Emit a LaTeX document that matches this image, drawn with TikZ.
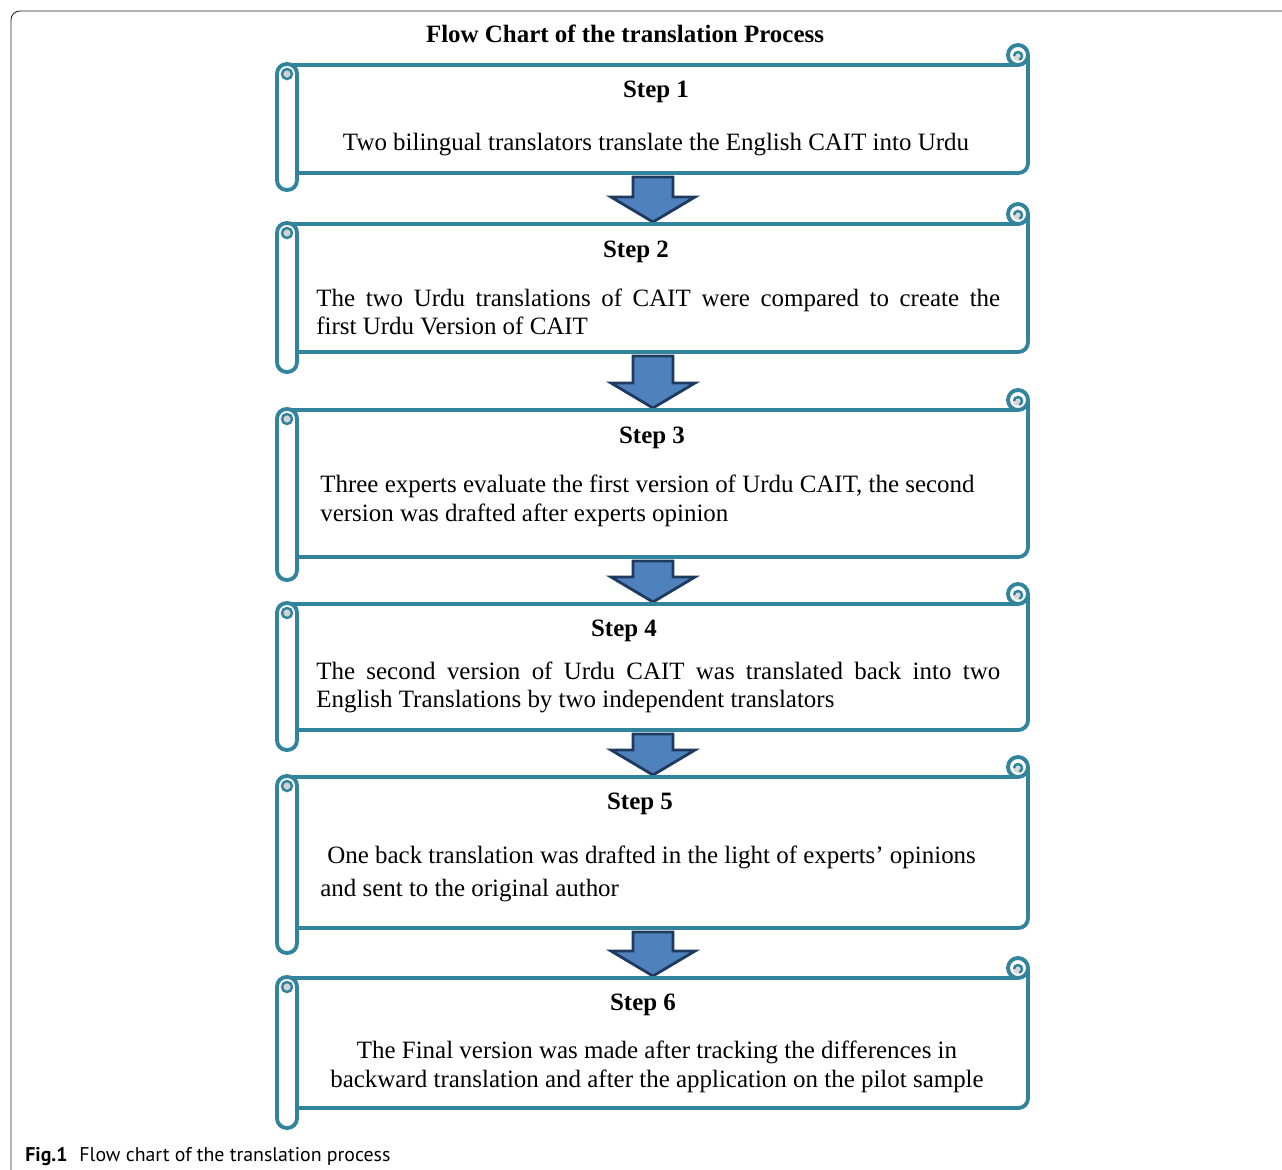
\documentclass[tikz,border=0pt]{standalone}
\usepackage{fontspec}
\setmainfont{Liberation Serif}
\newfontfamily\capfont{PT Sans}
\usetikzlibrary{math,calc}

\definecolor{scrollteal}{HTML}{31849B}
\definecolor{arrowblue}{HTML}{4F81BD}
\definecolor{arrowedge}{HTML}{1F3A5F}

\tikzset{
  scrollline/.style={draw=scrollteal, line width=2.2pt},
  steptitle/.style={font=\fontsize{14.2}{16.4}\selectfont\bfseries, inner sep=0pt, anchor=base},
  steptext/.style={font=\fontsize{14.2}{16.4}\selectfont, inner sep=0pt},
  blockarrow/.style={fill=arrowblue, draw=arrowedge, line width=1.6pt, line join=miter},
}

\begin{document}
\begin{tikzpicture}[x=0.02cm, y=-0.02cm]
            \tikzmath{\rollL = 277; \rollR = 297; \boxR = 1028; \curlr = 10; \ax = 653;}
            \useasboundingbox (0,0) rectangle (1282,1170);
            \draw[black!85, line width=0.5pt, rounded corners=5pt] (11,1175) -- (11,11) -- (1290,11);

            % named points where the arrows start and end
            \foreach \n/\T/\B in {1/65/173, 2/224/352, 3/410/557, 4/604/730, 5/777/928, 6/978/1108}{
                \coordinate (t\n) at (\ax,\T-2);
                \coordinate (b\n) at (\ax,\B);
            }

            % block arrows between the steps
            \foreach \n/\m in {1/2, 2/3, 3/4, 4/5, 5/6}{
                \draw[blockarrow] (b\n) ++(-20,4) -- ++(40,0) |- ($(t\m)+(42,-25)$) -- (t\m) -- ++(-42,-25) -- ++(22,0) -- cycle;
            }

            % the scrolls
            \foreach \T/\B/\R in {65/173/190, 224/352/372, 410/557/580, 604/730/750, 777/928/953, 978/1108/1128}{
                \draw[scrollline, rounded corners=5.5pt] (\boxR,\T-\curlr) -- (\boxR,\B) -- (\rollR,\B);
                \draw[scrollline] (\rollL+10,\T) -- (\boxR-\curlr,\T);
                \filldraw[scrollline, fill=white] (\boxR-\curlr,\T-\curlr) circle (\curlr);
                \fill[gray!30] (\boxR-\curlr,\T-\curlr+1) circle (5);
                \draw[scrollline, line width=1.4pt] (\boxR-\curlr-4,\T-\curlr+1) arc[start angle=180, end angle=430, radius=4];
                \filldraw[scrollline, fill=white, rounded corners=5.5pt] (\rollL,\T-1) rectangle (\rollR,\R);
                \fill[gray!35] (\rollL+10,\T+9) circle (4);
                \draw[scrollline, line width=1.4pt] (\rollL+10,\T+9) circle (5);
            }

            \node[steptitle] (head) at (625,42) {Flow Chart of the translation Process};

            \node[steptitle] (s1) at (656,97) {Step 1};
            \node[steptext, anchor=base] (x1) at (656,150) {Two bilingual translators translate the English CAIT into Urdu};

            \node[steptitle] (s2) at (636,257) {Step 2};
            \node[steptext, anchor=base west, text width=13.68cm, align=justify] (x2) at (316,306)
                {The two Urdu translations of CAIT were compared to create the\linebreak first Urdu Version of CAIT};

            \node[steptitle] (s3) at (652,443) {Step 3};
            \node[steptext, anchor=base west, align=left] (x3) at (320,521)
                {Three experts evaluate the first version of Urdu CAIT, the second\\version was drafted after experts opinion};

            \node[steptitle] (s4) at (624,636) {Step 4};
            \node[steptext, anchor=base west, text width=13.68cm, align=justify] (x4) at (316,679)
                {The second version of Urdu CAIT was translated back into two\linebreak English Translations by two independent translators};

            \node[steptitle] (s5) at (640,809) {Step 5};
            \node[steptext, anchor=base west, align=left] (x5) at (320,896)
                {\hspace*{0.14cm}One back translation was drafted in the light of experts’ opinions\\[2.3pt]and sent to the original author};

            \node[steptitle] (s6) at (643,1010) {Step 6};
            \node[steptext, anchor=base, align=center] (x6) at (657,1087)
                {The Final version was made after tracking the differences in\\backward translation and after the application on the pilot sample};

            \node[font=\capfont\fontsize{11.3}{13}\selectfont, inner sep=0pt, anchor=base west] (cap) at (25,1161)
                {\textbf{Fig.1}\hspace{0.6em}Flow chart of the translation process};
\end{tikzpicture}
\end{document}
